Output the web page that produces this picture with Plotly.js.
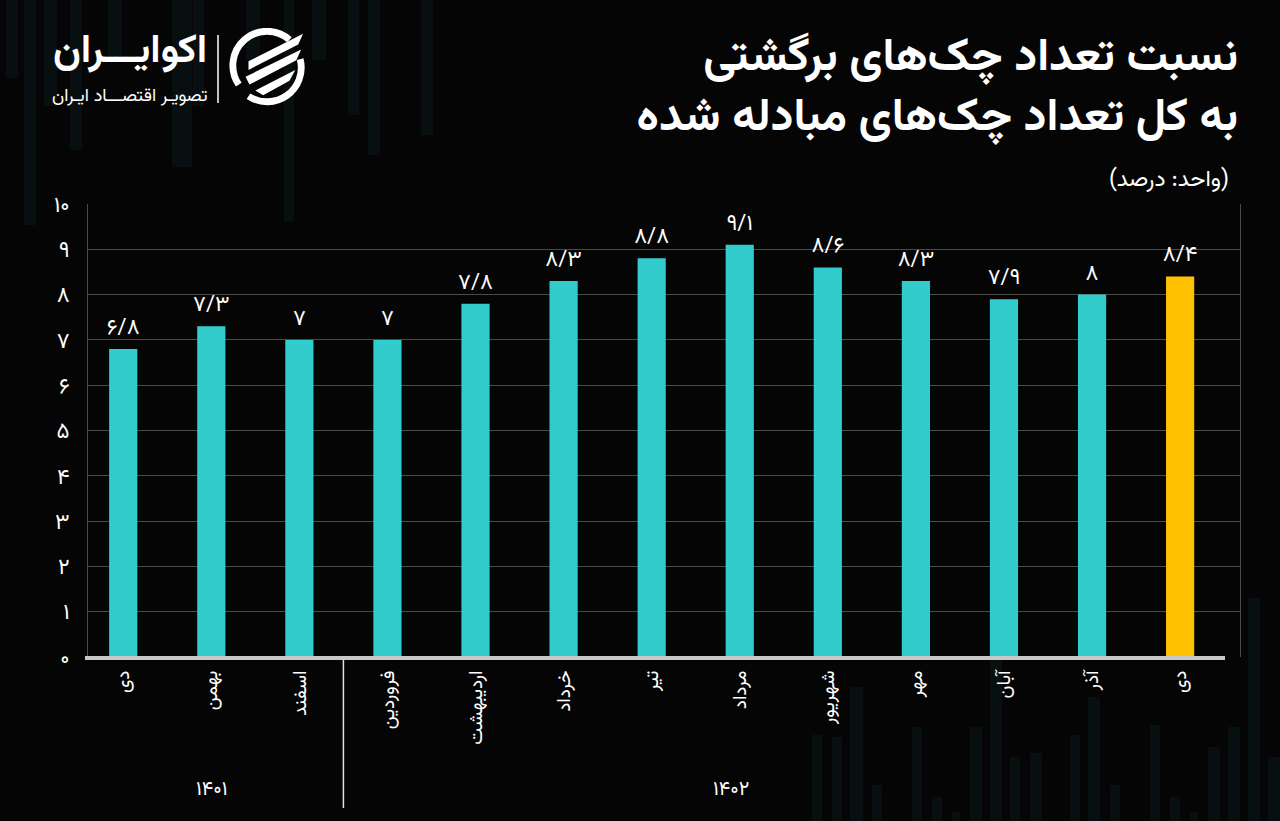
<!DOCTYPE html>
<html>
<head>
<meta charset="utf-8">
<script src="https://cdn.plot.ly/plotly-3.0.1.min.js"></script>
<style>
  html, body { margin: 0; padding: 0; background: #050505; }
  #chart { width: 1280px; height: 821px; }
</style>
</head>
<body>
<div id="chart"></div>
<script>
// ---- data ----
const months = ['دی','بهمن','اسفند','فروردین','اردیبهشت','خرداد','تیر','مرداد','شهریور','مهر','آبان','آذر','دی'];
const years = ['۱۴۰۱','۱۴۰۱','۱۴۰۱','۱۴۰۲','۱۴۰۲','۱۴۰۲','۱۴۰۲','۱۴۰۲','۱۴۰۲','۱۴۰۲','۱۴۰۲','۱۴۰۲','۱۴۰۲'];
const values = [6.8, 7.3, 7, 7, 7.8, 8.3, 8.8, 9.1, 8.6, 8.3, 7.9, 8, 8.4];
const yTicks = [0,1,2,3,4,5,6,7,8,9,10];
const yearLabels = ['۱۴۰۱','۱۴۰۲'];

// ---- helpers ----
const FA = '۰۱۲۳۴۵۶۷۸۹';
const toFa = v => String(v).replace(/\d/g, d => FA[d]).replace('.', '/');
const FONT = 'Vazirmatn, "Noto Sans Arabic", "DejaVu Sans", sans-serif';
const TEAL = '#33CCCC', GOLD = '#FFC000';

const L = 88, R = 1240, T = 204, B = 657;
const px = x => (x - L) / (R - L);
const py = y => (B - y) / (B - T);

const xKeys = months.map((m, i) => m + ' ' + years[i]);
const barColors = values.map((v, i) => i === values.length - 1 ? GOLD : TEAL);

// decorative faint background bars: [x, width, yTop, yBottom] in px
const decor = [
  [6,12,0,78],[24,12,0,225],[44,13,0,106],[70,12,0,150],[108,14,0,60],[172,20,0,167],
  [193,11,0,106],[246,14,0,60],[284,10,0,222],[312,14,0,60],[348,11,0,115],[368,12,0,155],[421,12,0,135],
  [812,10,735,821],[832,10,737,821],[850,13,687,821],[872,10,785,821],[912,10,727,821],[932,10,797,821],
  [952,8,812,821],[970,12,727,821],[990,12,660,821],[1010,10,757,821],[1030,12,753,821],[1070,10,735,821],
  [1088,12,697,821],[1110,10,785,821],[1150,10,725,821],[1170,10,797,821],[1190,8,812,821],[1208,12,747,821],
  [1228,12,727,821],[1248,12,598,821],[1268,12,757,821]
];

const shapes = decor.map(d => ({
  type: 'rect', xref: 'paper', yref: 'paper', layer: 'below',
  x0: px(d[0]), x1: px(d[0] + d[1]), y0: py(d[3]), y1: py(d[2]),
  fillcolor: 'rgba(20,62,72,0.18)', line: { width: 0 }
}));

// bottom axis line
shapes.push({ type: 'line', xref: 'paper', yref: 'paper', x0: px(85), x1: px(1225), y0: py(658), y1: py(658),
  line: { color: '#c8c8c8', width: 4 } });
// year divider
shapes.push({ type: 'line', xref: 'x', yref: 'paper', x0: 2.5, x1: 2.5, y0: py(660), y1: py(808),
  line: { color: '#e0e0e0', width: 1.5 } });
// logo divider
shapes.push({ type: 'line', xref: 'paper', yref: 'paper', x0: px(218), x1: px(218), y0: py(35), y1: py(103),
  line: { color: '#ffffff', width: 1.5 } });

const logoSvg = "<svg xmlns='http://www.w3.org/2000/svg' viewBox='0 0 80 80'>" +
  "<path d='M62 12 A35 35 0 0 0 10 58' stroke='white' stroke-width='7' fill='none'/>" +
  "<path d='M20 70 A35 35 0 0 0 73 32' stroke='white' stroke-width='7' fill='none'/>" +
  "<path d='M20 34 L76 6 L71 17 L20 43 Z' fill='white'/>" +
  "<path d='M17 50 L74 22 L69 33 L21 58 Z' fill='white'/>" +
  "<path d='M27 64 L68 43 L62 54 L35 69 Z' fill='white'/>" +
  "</svg>";

const annotations = [
  { xref: 'paper', yref: 'paper', x: px(1231), y: py(180), xanchor: 'right', yanchor: 'middle',
    text: '\u200F(واحد: درصد)\u200F', showarrow: false, font: { family: FONT, size: 23, color: '#ffffff' } },
  { xref: 'paper', yref: 'paper', x: px(130), y: py(52), xanchor: 'center', yanchor: 'middle',
    text: 'اکوایـــران', showarrow: false, font: { family: FONT, size: 40, color: '#ffffff', weight: 700 } },
  { xref: 'paper', yref: 'paper', x: px(130), y: py(97), xanchor: 'center', yanchor: 'middle',
    text: 'تصویـر اقتصـــاد ایـران', showarrow: false, font: { family: FONT, size: 18, color: '#ffffff' } },
  { xref: 'x', yref: 'paper', x: 1, y: py(790), xanchor: 'center', yanchor: 'middle',
    text: yearLabels[0], showarrow: false, font: { family: FONT, size: 20, color: '#ffffff' } },
  { xref: 'x', yref: 'paper', x: 6.9, y: py(790), xanchor: 'center', yanchor: 'middle',
    text: yearLabels[1], showarrow: false, font: { family: FONT, size: 20, color: '#ffffff' } }
];

const trace = {
  type: 'bar',
  x: xKeys,
  y: values,
  marker: { color: barColors, line: { width: 0 } },
  text: values.map(toFa),
  textposition: 'outside',
  constraintext: 'none',
  cliponaxis: false,
  textfont: { family: FONT, size: 22, color: '#ffffff' },
  hoverinfo: 'skip'
};

const layout = {
  width: 1280, height: 821,
  paper_bgcolor: '#050505', plot_bgcolor: 'rgba(0,0,0,0)',
  margin: { l: L, r: 1280 - R, t: T, b: 821 - B },
  showlegend: false,
  bargap: 0.68,
  title: {
    text: 'نسبت تعداد چک‌های برگشتی<br>به کل تعداد چک‌های مبادله شده',
    xref: 'container', yref: 'container', x: 1238 / 1280, xanchor: 'right',
    y: 1 - 70 / 821, yanchor: 'top',
    font: { family: FONT, size: 46, color: '#ffffff', weight: 700 }
  },
  xaxis: {
    type: 'category',
    range: [-0.4, 12.68],
    tickvals: xKeys, ticktext: months,
    tickangle: -90,
    tickfont: { family: FONT, size: 19, color: '#ffffff' },
    ticks: 'outside', ticklen: 5, tickcolor: 'rgba(0,0,0,0)',
    showgrid: false, zeroline: false, showline: false,
    fixedrange: true
  },
  yaxis: {
    range: [0, 10],
    tickvals: yTicks, ticktext: yTicks.map(toFa),
    tickfont: { family: FONT, size: 22, color: '#ffffff' },
    ticks: 'outside', ticklen: 13, tickcolor: 'rgba(0,0,0,0)',
    showgrid: true, gridcolor: '#4a4a4a', gridwidth: 1,
    zeroline: false,
    showline: true, linecolor: '#4a4a4a', linewidth: 1, mirror: true,
    fixedrange: true
  },
  shapes: shapes,
  annotations: annotations,
  images: [{
    source: 'data:image/svg+xml;utf8,' + encodeURIComponent(logoSvg),
    xref: 'paper', yref: 'paper', x: px(229), y: py(28), sizex: px(307) - px(229), sizey: py(28) - py(106),
    xanchor: 'left', yanchor: 'top', sizing: 'stretch', layer: 'above'
  }]
};

Plotly.newPlot('chart', [trace], layout, { displayModeBar: false, staticPlot: true });
</script>
</body>
</html>
